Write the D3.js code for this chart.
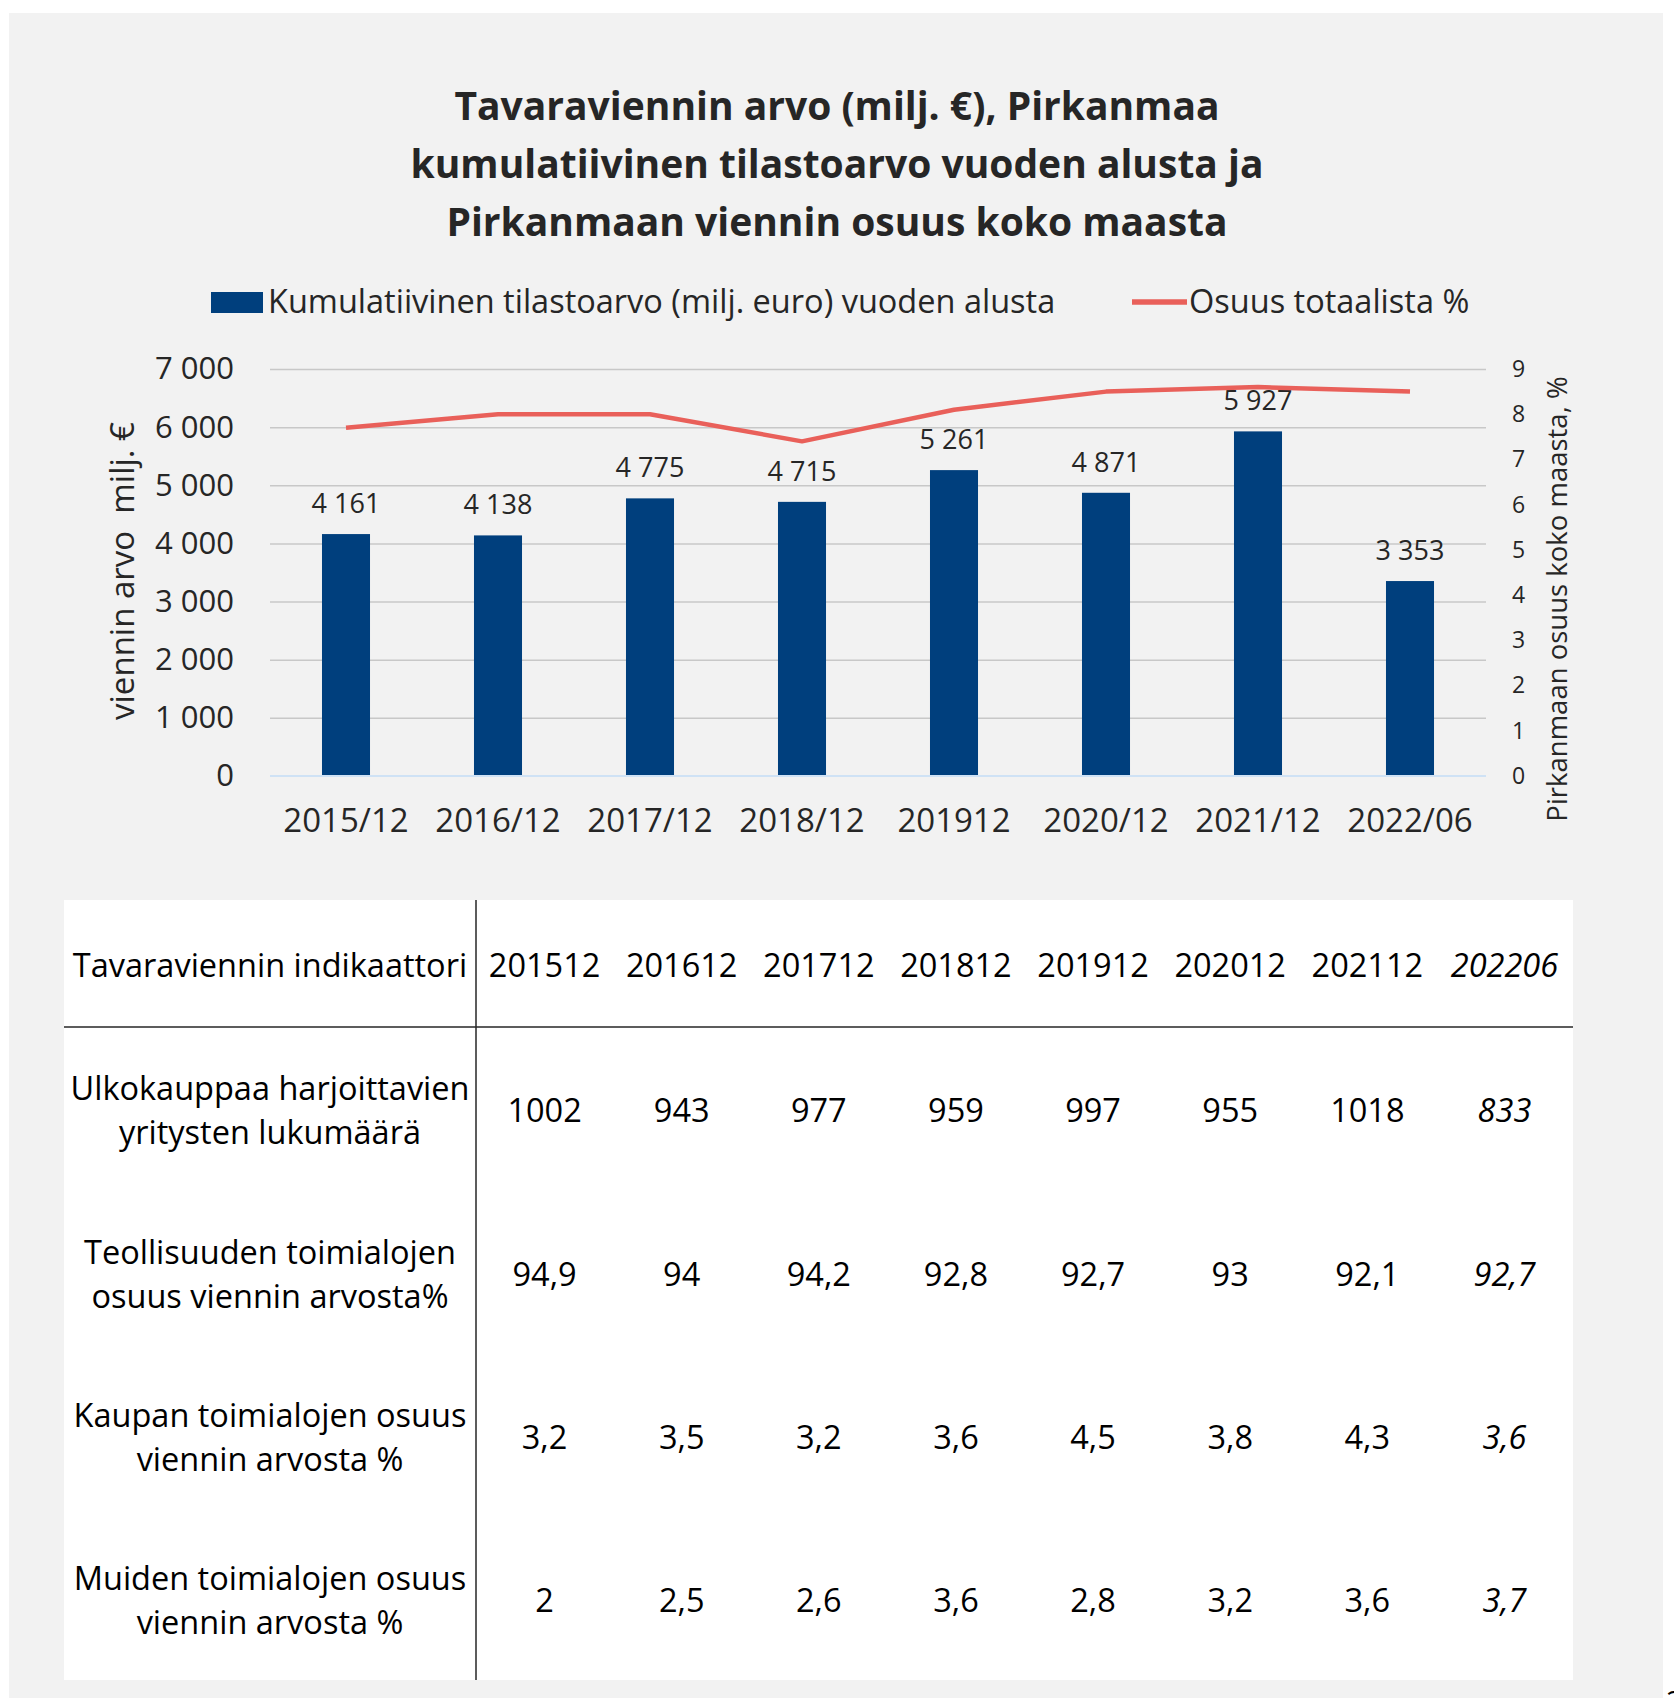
<!DOCTYPE html>
<html lang="fi">
<head>
<meta charset="UTF-8">
<title>Tavaraviennin arvo, Pirkanmaa</title>
<style>
  body { margin: 0; background: #fff; }
  svg text { font-family: "Open Sans", Lato, sans-serif; }
</style>
</head>
<body>
<script src="https://d3js.org/d3.v7.min.js"></script>
<script>
// chart data
var categories = ["2015/12", "2016/12", "2017/12", "2018/12", "201912", "2020/12", "2021/12", "2022/06"];
var exportValue = [4161, 4138, 4775, 4715, 5261, 4871, 5927, 3353];
var shareOfTotal = [7.7, 8.0, 8.0, 7.4, 8.1, 8.5, 8.6, 8.5];
var leftTicks = [0, 1000, 2000, 3000, 4000, 5000, 6000, 7000];
var rightTicks = [0, 1, 2, 3, 4, 5, 6, 7, 8, 9];

// table data
var tableHeader = "Tavaraviennin indikaattori";
var tableColumns = ["201512", "201612", "201712", "201812", "201912", "202012", "202112", "202206"];
var rowLabels = [
  ["Ulkokauppaa harjoittavien", "yritysten lukumäärä"],
  ["Teollisuuden toimialojen", "osuus viennin arvosta%"],
  ["Kaupan toimialojen osuus", "viennin arvosta %"],
  ["Muiden toimialojen osuus", "viennin arvosta %"]
];
var companies = [1002, 943, 977, 959, 997, 955, 1018, 833];
var industryShare = [94.9, 94, 94.2, 92.8, 92.7, 93, 92.1, 92.7];
var tradeShare = [3.2, 3.5, 3.2, 3.6, 4.5, 3.8, 4.3, 3.6];
var otherShare = [2, 2.5, 2.6, 3.6, 2.8, 3.2, 3.6, 3.7];
var tableRows = [companies, industryShare, tradeShare, otherShare];

const width = 1674, height = 1698;
const plot = {left: 270, right: 1486, top: 369, bottom: 776};

var fi = d3.formatLocale({decimal: ",", thousands: "\u00a0", grouping: [3], currency: ["", " €"]});
var fmtThousands = fi.format(",d");
function fmtNum(v) { return String(v).replace(".", ","); }

const svg = d3.select("body").append("svg")
    .attr("width", width)
    .attr("height", height);

// grey panel
svg.append("rect")
    .attr("x", 9).attr("y", 13)
    .attr("width", 1654).attr("height", 1700)
    .attr("fill", "#f2f2f2");

// title
var titleLines = ["Tavaraviennin arvo (milj. €), Pirkanmaa",
                  "kumulatiivinen tilastoarvo vuoden alusta ja",
                  "Pirkanmaan viennin osuus koko maasta"];
svg.append("g").selectAll("text")
    .data(titleLines)
    .enter().append("text")
    .attr("x", 837)
    .attr("y", function(d, i) { return 120 + i * 58; })
    .attr("text-anchor", "middle")
    .attr("font-size", 39)
    .attr("font-weight", "bold")
    .attr("fill", "#262626")
    .text(function(d) { return d; });

// legend
var legend = svg.append("g");
legend.append("rect")
    .attr("x", 211).attr("y", 292).attr("width", 52).attr("height", 21)
    .attr("fill", "#003f7d");
legend.append("text")
    .attr("x", 268).attr("y", 313)
    .attr("font-size", 32.5).attr("fill", "#262626")
    .text("Kumulatiivinen tilastoarvo (milj. euro) vuoden alusta");
legend.append("line")
    .attr("x1", 1132).attr("x2", 1187).attr("y1", 302).attr("y2", 302)
    .attr("stroke", "#e9605a").attr("stroke-width", 5.5);
legend.append("text")
    .attr("x", 1189).attr("y", 313)
    .attr("font-size", 32.5).attr("fill", "#262626")
    .text("Osuus totaalista %");

// scales
var x = d3.scaleBand()
    .domain(categories)
    .range([plot.left, plot.right])
    .paddingInner(0.684)
    .paddingOuter(0.342);
var yLeft = d3.scaleLinear().domain([0, 7000]).range([plot.bottom, plot.top]);
var yRight = d3.scaleLinear().domain([0, 9]).range([plot.bottom, plot.top]);

// gridlines
var grid = svg.append("g")
    .attr("transform", "translate(" + plot.left + ",0)")
    .call(d3.axisLeft(yLeft).tickValues(leftTicks.slice(1)).tickSize(-(plot.right - plot.left)).tickFormat(""));
grid.select(".domain").remove();
grid.selectAll("line").attr("stroke", "#c8c8c8").attr("stroke-width", 1.5);

// left axis labels
var axL = svg.append("g")
    .attr("transform", "translate(" + (plot.left - 36) + ",0)")
    .call(d3.axisLeft(yLeft).tickValues(leftTicks).tickSize(0).tickPadding(0).tickFormat(fmtThousands));
axL.select(".domain").remove();
axL.selectAll("text")
    .attr("font-family", "'Open Sans', sans-serif")
    .attr("font-size", 31)
    .attr("fill", "#262626");

// right axis labels
var axR = svg.append("g")
    .attr("transform", "translate(" + (plot.right + 26) + ",0)")
    .call(d3.axisRight(yRight).tickValues(rightTicks).tickSize(0).tickPadding(0));
axR.select(".domain").remove();
axR.selectAll("text")
    .attr("font-family", "'Open Sans', sans-serif")
    .attr("font-size", 23)
    .attr("fill", "#262626");

// x axis labels
var axX = svg.append("g")
    .attr("transform", "translate(0," + plot.bottom + ")")
    .call(d3.axisBottom(x).tickSize(0).tickPadding(33));
axX.select(".domain").remove();
axX.selectAll("text")
    .attr("font-family", "'Open Sans', sans-serif")
    .attr("font-size", 33)
    .attr("fill", "#262626");

// axis titles
svg.append("text")
    .attr("transform", "translate(134,571) rotate(-90)")
    .attr("text-anchor", "middle")
    .attr("font-size", 33).attr("fill", "#262626")
    .attr("xml:space", "preserve")
    .text("viennin arvo  milj. €");
svg.append("text")
    .attr("transform", "translate(1567,599) rotate(-90)")
    .attr("text-anchor", "middle")
    .attr("font-size", 27.5).attr("fill", "#262626")
    .text("Pirkanmaan osuus koko maasta, %");

// bars
svg.append("g").selectAll("rect")
    .data(exportValue)
    .enter().append("rect")
    .attr("x", function(d, i) { return x(categories[i]); })
    .attr("y", function(d) { return yLeft(d); })
    .attr("width", x.bandwidth())
    .attr("height", function(d) { return yLeft(0) - yLeft(d); })
    .attr("fill", "#003f7d");

// zero line
svg.append("line")
    .attr("x1", plot.left).attr("x2", plot.right)
    .attr("y1", yLeft(0)).attr("y2", yLeft(0))
    .attr("stroke", "#cfe2f5").attr("stroke-width", 2);

// bar value labels
svg.append("g").selectAll("text")
    .data(exportValue)
    .enter().append("text")
    .attr("x", function(d, i) { return x(categories[i]) + x.bandwidth() / 2; })
    .attr("y", function(d) { return yLeft(d) - 21; })
    .attr("text-anchor", "middle")
    .attr("font-size", 27)
    .attr("fill", "#262626")
    .text(function(d) { return fmtThousands(d); });

// share line
var line = d3.line()
    .x(function(d, i) { return x(categories[i]) + x.bandwidth() / 2; })
    .y(function(d) { return yRight(d); });
svg.append("path")
    .datum(shareOfTotal)
    .attr("d", line)
    .attr("fill", "none")
    .attr("stroke", "#e9605a")
    .attr("stroke-width", 4.5)
    .attr("stroke-linejoin", "round");

// table
var tbl = {left: 64, right: 1573, top: 900, bottom: 1680, split: 476, headerLine: 1027};
var col = d3.scaleBand().domain(tableColumns).range([tbl.split, tbl.right]);
var rowY = [1111, 1275, 1438, 1601];

svg.append("rect")
    .attr("x", tbl.left).attr("y", tbl.top)
    .attr("width", tbl.right - tbl.left).attr("height", tbl.bottom - tbl.top)
    .attr("fill", "#ffffff");
svg.append("line")
    .attr("x1", tbl.split).attr("x2", tbl.split).attr("y1", tbl.top).attr("y2", tbl.bottom)
    .attr("stroke", "#262626").attr("stroke-width", 1.5);
svg.append("line")
    .attr("x1", tbl.left).attr("x2", tbl.right).attr("y1", tbl.headerLine).attr("y2", tbl.headerLine)
    .attr("stroke", "#262626").attr("stroke-width", 1.5);

var tg = svg.append("g").attr("font-size", 32.5).attr("fill", "#000");
tg.append("text")
    .attr("x", (tbl.left + tbl.split) / 2).attr("y", 977)
    .attr("text-anchor", "middle")
    .text(tableHeader);
tg.selectAll(".colhead")
    .data(tableColumns)
    .enter().append("text")
    .attr("class", "colhead")
    .attr("x", function(d) { return col(d) + col.bandwidth() / 2; })
    .attr("y", 977)
    .attr("text-anchor", "middle")
    .attr("font-style", function(d, i) { return i === tableColumns.length - 1 ? "italic" : "normal"; })
    .text(function(d) { return d; });

rowLabels.forEach(function(lines, r) {
    tg.selectAll(".lab" + r)
        .data(lines)
        .enter().append("text")
        .attr("x", (tbl.left + tbl.split) / 2)
        .attr("y", function(d, i) { return rowY[r] - 11 + i * 44; })
        .attr("text-anchor", "middle")
        .text(function(d) { return d; });
    tg.selectAll(".val" + r)
        .data(tableRows[r])
        .enter().append("text")
        .attr("x", function(d, i) { return col(tableColumns[i]) + col.bandwidth() / 2; })
        .attr("y", rowY[r] + 11)
        .attr("text-anchor", "middle")
        .attr("font-style", function(d, i) { return i === tableColumns.length - 1 ? "italic" : "normal"; })
        .text(function(d) { return fmtNum(d); });
});

// clipped page number at the corner
svg.append("text")
    .attr("x", 1666).attr("y", 1712)
    .attr("font-size", 30).attr("fill", "#000")
    .text("2");
</script>
</body>
</html>
